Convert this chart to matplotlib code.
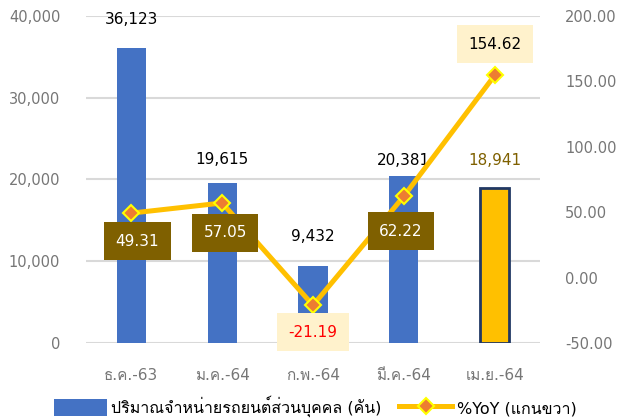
import matplotlib
matplotlib.use('Agg')
import matplotlib.pyplot as plt
from matplotlib import font_manager
from matplotlib.ft2font import FT2Font
from matplotlib.lines import Line2D
from matplotlib.patches import Patch
import numpy as np

# data
months = ['ธ.ค.-63', 'ม.ค.-64', 'ก.พ.-64', 'มี.ค.-64', 'เม.ย.-64']
sales = [36123, 19615, 9432, 20381, 18941]
yoy = [49.31, 57.05, -21.19, 62.22, 154.62]

sales_label = 'ปริมาณจำหน่ายรถยนต์ส่วนบุคคล (คัน)'
yoy_label = '%YoY (แกนขวา)'


def find_thai_font():
    # look for any installed font with Thai glyphs
    for f in font_manager.fontManager.ttflist:
        try:
            cmap = FT2Font(f.fname).get_charmap()
        except Exception:
            continue
        if 0x0E01 in cmap and 0x0E32 in cmap:
            return f.name
    return None


thai = find_thai_font()
families = ['DejaVu Sans']
if thai:
    families = ['DejaVu Sans', thai]
plt.rcParams['font.family'] = families

BLUE = '#4472C4'
GOLD = '#FFC000'
OLIVE = '#7F6000'
CREAM = '#FFF2CC'
GREY = '#767676'

fig = plt.figure(figsize=(6.18, 4.19), dpi=100)
ax1 = fig.add_axes([0.139, 0.1814, 0.735, 0.7804])
ax2 = ax1.twinx()

x = np.arange(len(months))
colors = [BLUE] * 4 + [GOLD]
edges = [BLUE] * 4 + ['#203864']
lws = [0, 0, 0, 0, 2]
ax1.bar(x, sales, width=0.32, color=colors, edgecolor=edges, linewidth=lws, zorder=2)

ax1.set_ylim(0, 40000)
ax1.set_xlim(-0.5, 4.5)
ax1.set_yticks(np.arange(0, 40001, 10000))
ax1.set_yticklabels(['{:,}'.format(v) for v in range(0, 40001, 10000)])
ax1.grid(axis='y', color='#D9D9D9', linewidth=1.5, zorder=0)
ax1.set_axisbelow(True)
ax1.set_xticks(x)
ax1.set_xticklabels(months)

ax2.set_ylim(-50, 200)
ax2.set_yticks(np.arange(-50, 201, 50))
ax2.set_yticklabels(['{:.2f}'.format(v) for v in range(-50, 201, 50)])

for a in (ax1, ax2):
    for s in a.spines.values():
        s.set_visible(False)
    a.tick_params(length=0, labelsize=10.5, labelcolor=GREY)
ax1.tick_params(axis='x', pad=18, labelsize=11)
ax1.tick_params(axis='y', pad=18.5)
ax2.tick_params(axis='y', pad=18)

# bar value labels
bar_off = [28, 23, 29, 16, 28]
for i, v in enumerate(sales):
    c = OLIVE if i == 4 else 'black'
    ax1.annotate('{:,}'.format(v), (x[i], v), xytext=(0, bar_off[i]),
                 textcoords='offset pixels', ha='center', va='center',
                 fontsize=11, color=c)

# yoy line
ax2.plot(x, yoy, color=GOLD, linewidth=3.6, marker='D', markersize=8,
         markerfacecolor='#ED7D31', markeredgecolor='#FFFF00',
         markeredgewidth=1.5, zorder=3)

lab_off = [(6, -28), (3, -30), (0, -27), (-3, -35), (0, 31)]
for i, v in enumerate(yoy):
    if v > 100:
        fc, tc = CREAM, 'black'
    elif v < 0:
        fc, tc = CREAM, '#FF0000'
    else:
        fc, tc = OLIVE, 'white'
    ax2.annotate('{:.2f}'.format(v), (x[i], v), xytext=lab_off[i],
                 textcoords='offset pixels', ha='center', va='center',
                 fontsize=11, color=tc, zorder=5,
                 bbox=dict(boxstyle='square,pad=0.75', fc=fc, ec='none'))

handles = [Patch(facecolor=BLUE, edgecolor='none'),
           Line2D([0], [0], color=GOLD, linewidth=3.6, marker='D', markersize=8,
                  markerfacecolor='#ED7D31', markeredgecolor='#FFFF00',
                  markeredgewidth=1.5)]
fig.legend(handles, [sales_label, yoy_label], loc='lower center',
           bbox_to_anchor=(0.51, -0.03), ncol=2, frameon=False,
           fontsize=11.5, handlelength=3.3, handleheight=1.3,
           columnspacing=1.1, handletextpad=0.3)

fig.savefig('out.png', dpi=100)
